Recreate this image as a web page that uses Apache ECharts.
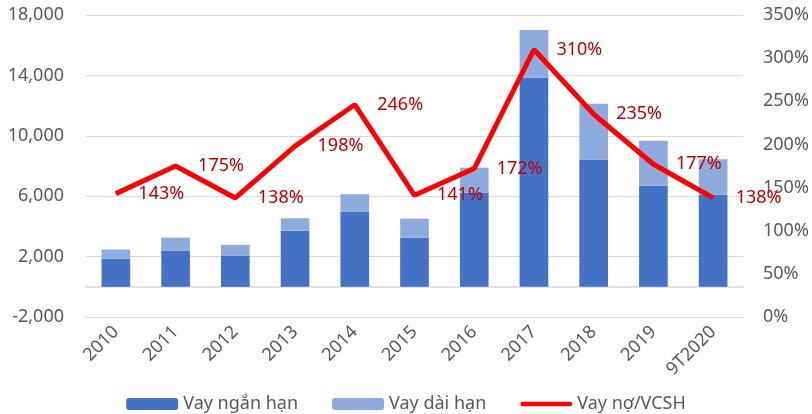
<!DOCTYPE html>
<html>
<head>
<meta charset="utf-8">
<script src="https://cdn.jsdelivr.net/npm/echarts@6/dist/echarts.min.js"></script>
<style>
    html, body { margin: 0; padding: 0; background: #fff; }
    #chart { width: 812px; height: 414px; }
</style>
</head>
<body>
<div id="chart"></div>
<script>
    // dữ liệu
    const years = ['2010', '2011', '2012', '2013', '2014', '2015', '2016', '2017', '2018', '2019', '9T2020'];
    const shortTerm = [1870, 2380, 2050, 3720, 4980, 3240, 6240, 13860, 8420, 6700, 6100]; // Vay ngắn hạn
    const longTerm = [600, 880, 730, 820, 1150, 1280, 1650, 3150, 3700, 2970, 2340];      // Vay dài hạn
    const debtRatio = [143, 175, 138, 198, 246, 141, 172, 310, 235, 177, 138];             // Vay nợ/VCSH (%)

    const font = 'Noto Sans';
    const gray = '#595959';

    const myChart = echarts.init(document.getElementById('chart'));
    myChart.setOption({
        animation: false,
        textStyle: {fontFamily: font},
        grid: {left: 86, right: 69, top: 15, bottom: 97, containLabel: false},
        legend: {
            top: 390,
            left: 'center',
            itemWidth: 52,
            itemHeight: 12,
            itemGap: 34,
            symbolKeepAspect: true,
            textStyle: {fontFamily: font, fontSize: 18, color: gray},
            data: [
                'Vay ngắn hạn',
                'Vay dài hạn',
                // icon đường kẻ đỏ dày, bo tròn hai đầu
                {name: 'Vay nợ/VCSH', icon: 'path://M2.5,0 H57.5 A2.5,2.5 0 0 1 57.5,5 H2.5 A2.5,2.5 0 0 1 2.5,0 Z'}
            ]
        },
        xAxis: {
            type: 'category',
            data: years,
            axisTick: {show: false},
            axisLine: {onZero: true, lineStyle: {color: '#d9d9d9', width: 1.5}},
            axisLabel: {rotate: 45, margin: 12, fontSize: 18, color: gray, fontFamily: font}
        },
        yAxis: [
            {
                type: 'value',
                min: -2000,
                max: 18000,
                interval: 4000,
                axisLine: {show: false},
                axisTick: {show: false},
                splitLine: {lineStyle: {color: '#d9d9d9', width: 1.2}},
                axisLabel: {
                    margin: 22, fontSize: 18, color: gray, fontFamily: font,
                    formatter: v => v.toLocaleString('en-US')
                }
            },
            {
                type: 'value',
                min: 0,
                max: 350,
                interval: 50,
                axisLine: {show: false},
                axisTick: {show: false},
                splitLine: {show: false},
                axisLabel: {margin: 20, fontSize: 18, color: gray, fontFamily: font, formatter: '{value}%'}
            }
        ],
        series: [
            {
                name: 'Vay ngắn hạn',
                type: 'bar',
                stack: 'debt',
                barWidth: '48%',
                itemStyle: {color: '#4472C4'},
                data: shortTerm
            },
            {
                name: 'Vay dài hạn',
                type: 'bar',
                stack: 'debt',
                itemStyle: {color: '#8FAADC'},
                data: longTerm
            },
            {
                name: 'Vay nợ/VCSH',
                type: 'line',
                yAxisIndex: 1,
                symbol: 'circle',
                symbolSize: 1,
                lineStyle: {color: '#FF0000', width: 5},
                itemStyle: {color: '#FF0000'},
                label: {
                    show: true,
                    position: 'right',
                    distance: 22,
                    color: '#C00000',
                    fontSize: 18,
                    fontFamily: font,
                    formatter: p => p.value + '%'
                },
                data: debtRatio
            }
        ]
    });
</script>
</body>
</html>
